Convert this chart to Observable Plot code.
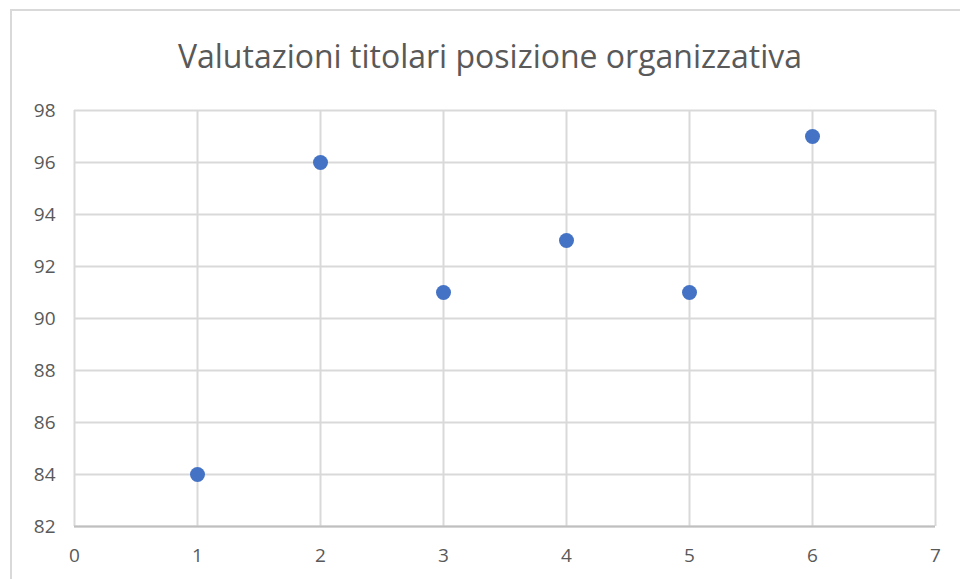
<!DOCTYPE html>
<html>
<head>
<meta charset="utf-8">
<script src="https://cdn.jsdelivr.net/npm/d3@7"></script>
<script src="https://cdn.jsdelivr.net/npm/@observablehq/plot@0.6"></script>
<style>
  html, body { margin: 0; padding: 0; background: #fff; }
  body { width: 960px; height: 579px; overflow: hidden; position: relative; font-family: "Open Sans", sans-serif; }
  #frame { position: absolute; left: 10px; top: 9px; width: 1000px; height: 700px; border-left: 2px solid #d9d9d9; border-top: 2px solid #d9d9d9; box-sizing: border-box; }
  #title { position: relative; height: 88px; line-height: 1; text-align: center; font-size: 32px; color: #595959; padding-top: 40px; box-sizing: border-box; padding-left: 20px; white-space: nowrap; }
  #chart { position: relative; }
</style>
</head>
<body>
<div id="frame"></div>
<div id="title">Valutazioni titolari posizione organizzativa</div>
<div id="chart"></div>
<script>
const xs = [1, 2, 3, 4, 5, 6];
const ys = [84, 96, 91, 93, 91, 97];
const xTicks = [0, 1, 2, 3, 4, 5, 6, 7];
const yTicks = [82, 84, 86, 88, 90, 92, 94, 96, 98];

const data = xs.map((x, i) => ({x, y: ys[i]}));

const plot = Plot.plot({
  width: 960,
  height: 491,
  marginLeft: 74,
  marginRight: 25,
  marginTop: 22,
  marginBottom: 53,
  style: {fontFamily: "Open Sans, sans-serif", fontSize: "19px", color: "#595959", background: "transparent"},
  x: {domain: [0, 7], ticks: xTicks, label: null},
  y: {domain: [82, 98], ticks: yTicks, label: null},
  marks: [
    Plot.gridX(xTicks, {stroke: "#d9d9d9", strokeOpacity: 1, strokeWidth: 2}),
    Plot.gridY(yTicks, {stroke: "#d9d9d9", strokeOpacity: 1, strokeWidth: 2}),
    Plot.ruleY([82], {stroke: "#bfbfbf", strokeWidth: 2}),
    Plot.axisX(xTicks, {tickSize: 0, tickPadding: 22, fill: "#595959", fontSize: 19, tickFormat: d3.format("d")}),
    Plot.axisY(yTicks, {tickSize: 0, tickPadding: 19, fill: "#595959", fontSize: 19, tickFormat: d3.format("d")}),
    Plot.dot(data, {x: "x", y: "y", r: 7.5, fill: "#4472C4", stroke: "none"})
  ]
});
document.getElementById("chart").appendChild(plot);
</script>
</body>
</html>
